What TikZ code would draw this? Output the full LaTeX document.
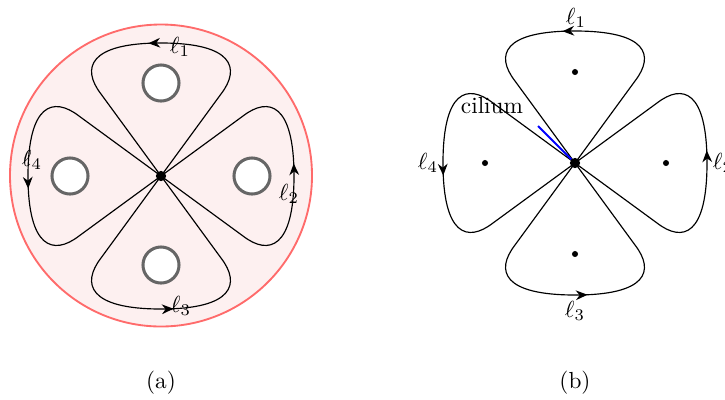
\documentclass[tikz,border=0pt]{standalone}
\usepackage{amsmath}
\usepackage{xcolor}
\usetikzlibrary{arrows.meta,decorations.markings}
\definecolor{diskbg}{HTML}{FDF0F0}
\definecolor{diskedge}{HTML}{FF6B6B}
\definecolor{holeedge}{HTML}{666666}

\begin{document}
\begin{tikzpicture}[
  x=0.43pt,y=-0.43pt,
  lobe/.style={draw=black,line width=.5pt,postaction={decorate},
    decoration={markings,mark=at position .53 with {\arrow{Stealth[length=5pt,width=4.2pt]}}}},
  hole/.style={circle,draw=holeedge,line width=1.3pt,fill=white,minimum size=15.5pt,inner sep=0pt},
  bigdot/.style={circle,fill=black,minimum size=4.4pt,inner sep=0pt},
  smalldot/.style={circle,fill=black,minimum size=2.6pt,inner sep=0pt},
  lab/.style={inner sep=0pt}
]
\useasboundingbox (0,0) rectangle (725,399);

% (a) disk with four holes
\filldraw[fill=diskbg,draw=diskedge,line width=.8pt] (161,175.5) circle (151);
\node[hole] (ht) at (161,83) {};
\node[hole] (hr) at (252,176) {};
\node[hole] (hb) at (161,265) {};
\node[hole] (hl) at (70,176) {};
\coordinate (ca) at (161,176);
\foreach \r in {0,-90,180,90}{
  \begin{scope}[shift={(ca)},rotate=\r,x=0.43pt,y=0.43pt]
    \draw[lobe] (ca) -- (60,82) .. controls (80,108) and (72,133) .. (0,133)
      .. controls (-72,133) and (-80,108) .. (-60,82) -- (ca);
  \end{scope}
}
\node[bigdot] (oa) at (ca) {};
\node[lab] (la1) at (180,47) {$\ell_1$};
\node[lab] (la2) at (289,194) {$\ell_2$};
\node[lab] (la3) at (181,306) {$\ell_3$};
\node[lab] (la4) at (32,160) {$\ell_4$};
\node (capa) at (161,383) {(a)};

% (b) bouquet of loops with cilium
\coordinate (cb) at (575,163);
\foreach \r in {0,-90,180,90}{
  \begin{scope}[shift={(cb)},rotate=\r,x=0.43pt,y=0.43pt]
    \draw[lobe] (cb) -- (60,82) .. controls (80,108) and (72,132) .. (0,132)
      .. controls (-72,132) and (-80,108) .. (-60,82) -- (cb);
  \end{scope}
}
\node[smalldot] (pt) at (575,72) {};
\node[smalldot] (pr) at (666,163) {};
\node[smalldot] (pb) at (575,254) {};
\node[smalldot] (pl) at (485,163) {};
\coordinate (cil) at (538,126);
\draw[blue,line width=.8pt] (cb) -- (cil);
\node[bigdot] (ob) at (cb) {};
\node[lab] (cilium) at (492,106) {cilium};
\node[lab] (lb1) at (576,18) {$\ell_1$};
\node[lab] (lb2) at (723,163) {$\ell_2$};
\node[lab] (lb3) at (575,311) {$\ell_3$};
\node[lab] (lb4) at (428,163) {$\ell_4$};
\node (capb) at (575,383) {(b)};
\end{tikzpicture}
\end{document}
